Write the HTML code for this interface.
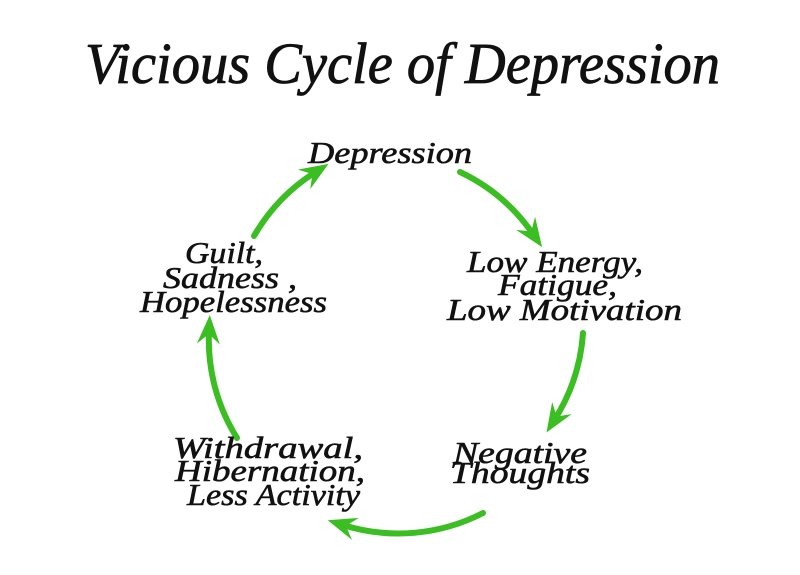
<!DOCTYPE html>
<html>
<head>
<meta charset="utf-8">
<style>
  html, body { margin: 0; padding: 0; background: #ffffff; }
  body { width: 800px; height: 575px; overflow: hidden; }
  svg { display: block; }
  text { font-family: "Liberation Serif", "DejaVu Serif", serif; font-style: italic; fill: #111111; stroke: #111111; }
  .lbl { font-size: 31px; stroke-width: 0.6px; }
  .ttl { font-size: 58px; stroke-width: 0.8px; }
</style>
</head>
<body>
<svg width="800" height="575" viewBox="0 0 800 575" xmlns="http://www.w3.org/2000/svg">
  <defs>
    <marker id="ah" markerUnits="userSpaceOnUse" markerWidth="40" markerHeight="40" refX="0" refY="0" orient="auto" overflow="visible" viewBox="-20 -20 40 40">
      <path d="M16,0 L-13,-11.5 L-3,0 L-13,11.5 Z" fill="#3abe22"/>
    </marker>
  </defs>
  <rect x="0" y="0" width="800" height="575" fill="#ffffff"/>

  <!-- Title -->
  <text class="ttl" x="85" y="83" textLength="635" lengthAdjust="spacingAndGlyphs">Vicious Cycle of Depression</text>

  <!-- Arrows -->
  <g fill="none" stroke="#3abe22" stroke-width="6" stroke-linecap="round">
    <path d="M254,236 A185,185 0 0 1 315,172.4" marker-end="url(#ah)"/>
    <path d="M460,172 A185,185 0 0 1 533,234" marker-end="url(#ah)"/>
    <path d="M583,333 A185,185 0 0 1 555,419" marker-end="url(#ah)"/>
    <path d="M483,513 A185,185 0 0 1 343,525" marker-end="url(#ah)"/>
    <path d="M237,438 A185,185 0 0 1 209,331" marker-end="url(#ah)"/>
  </g>

  <!-- Depression -->
  <text class="lbl" x="308" y="163" textLength="164" lengthAdjust="spacingAndGlyphs">Depression</text>

  <!-- Low Energy -->
  <text class="lbl" x="467" y="272" textLength="176" lengthAdjust="spacingAndGlyphs">Low Energy,</text>
  <text class="lbl" x="498" y="295" textLength="119" lengthAdjust="spacingAndGlyphs">Fatigue,</text>
  <text class="lbl" x="447" y="320" textLength="235" lengthAdjust="spacingAndGlyphs">Low Motivation</text>

  <!-- Negative Thoughts -->
  <text class="lbl" x="453" y="463" textLength="134" lengthAdjust="spacingAndGlyphs">Negative</text>
  <text class="lbl" x="450" y="483" textLength="140" lengthAdjust="spacingAndGlyphs">Thoughts</text>

  <!-- Withdrawal -->
  <text class="lbl" x="173" y="458" textLength="190" lengthAdjust="spacingAndGlyphs">Withdrawal,</text>
  <text class="lbl" x="175" y="481" textLength="190" lengthAdjust="spacingAndGlyphs">Hibernation,</text>
  <text class="lbl" x="187" y="505" textLength="173" lengthAdjust="spacingAndGlyphs">Less Activity</text>

  <!-- Guilt -->
  <text class="lbl" x="185" y="263" textLength="78" lengthAdjust="spacingAndGlyphs">Guilt,</text>
  <text class="lbl" x="163" y="288" textLength="134" lengthAdjust="spacingAndGlyphs">Sadness ,</text>
  <text class="lbl" x="140" y="312" textLength="187" lengthAdjust="spacingAndGlyphs">Hopelessness</text>
</svg>
</body>
</html>
